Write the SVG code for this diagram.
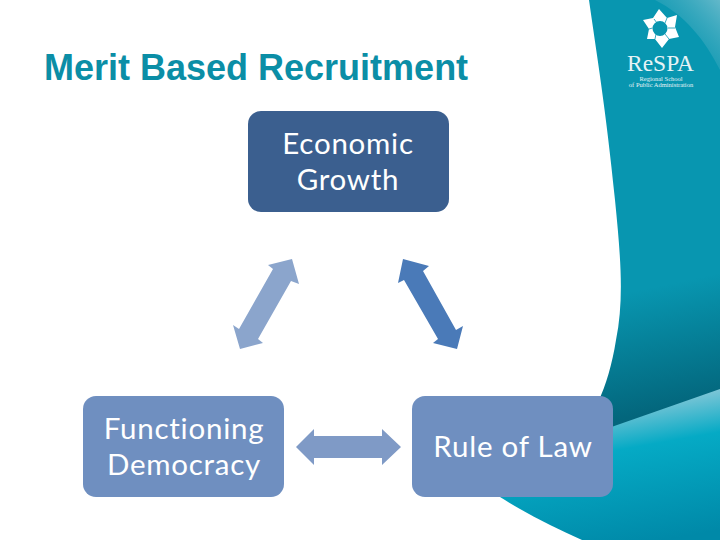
<svg xmlns="http://www.w3.org/2000/svg" width="720" height="540" viewBox="0 0 720 540">
<defs>
<linearGradient id="top" gradientUnits="userSpaceOnUse" x1="640" y1="290" x2="665" y2="410"><stop offset="0" stop-color="#0896b0"/><stop offset="1" stop-color="#03667c"/></linearGradient>
<linearGradient id="corner" x1="0" y1="1" x2="1" y2="0"><stop offset="0" stop-color="#0896b0" stop-opacity="0"/><stop offset="1" stop-color="#63b8ca"/></linearGradient>
<linearGradient id="low" gradientUnits="userSpaceOnUse" x1="640" y1="400" x2="665" y2="540"><stop offset="0" stop-color="#86c8d8"/><stop offset="0.32" stop-color="#05aac5"/><stop offset="1" stop-color="#0089a8"/></linearGradient>
</defs>
<style>
.t{font-family:"Lato","Open Sans",sans-serif;font-size:29.5px;letter-spacing:0.75px;fill:#fff;text-anchor:middle}
.s{font-family:"Liberation Serif",serif;fill:#e6f3f6;text-anchor:middle}
</style>
<rect width="720" height="540" fill="#fff"/>
<g id="background">
<path d="M589 0C596 50 606 110 615 200C621 260 624 300 616 340C612 365 606 385 598 402L560 460H720V0Z" fill="url(#top)"/>
<path d="M655 0H720V70C705 40 685 15 655 0Z" fill="url(#corner)"/>
<path d="M500 497C525 513 555 528 582 540H720V389L560 445Z" fill="url(#low)"/>
<g id="logo">
<path fill-rule="evenodd" fill="#fff" d="M659 9L667 18L677 15L675 27L679 37L669 39L662 48L655 39L647 39L649 29L643 20L653 18ZM660 21A7.5 7.5 0 1 0 660.01 36A7.5 7.5 0 1 0 660 21Z"/>
<path d="M654 19L657 23M667 18L665 23M675 28L668 28M669 39L665 34M655 39L656 34M649 29L652.500 28" stroke="#0896b0" stroke-width="0.800" fill="none"/>
</g>
<text class="s" x="660.500" y="70.500" font-size="23.500">ReSPA</text>
<text class="s" x="661" y="80.500" font-size="6.500">Regional School</text>
<text class="s" x="661" y="86.500" font-size="6.500">of Public Administration</text>
</g>
<text id="title" x="44" y="79.500" font-family="Liberation Sans, Arial, sans-serif" font-weight="700" font-size="36" fill="#0b8ea6">Merit Based Recruitment</text>
<g id="connectors">
<path id="c1" fill="#8ba5cc" d="M292 259L299 284L291 281L258 339L263 343L240 349L233 325L239 329L273 269L268 265Z"/>
<path id="c2" fill="#4a7ab8" d="M403 259L429 266L423 271L456 330L463 326L457 349L433 343L438 339L404 280L398 283Z"/>
<path id="c3" fill="#7f9ac6" d="M296 447L314 429V436H382V429L401 447L382 465V458H314V465Z"/>
</g>
<g id="economic-growth"><rect x="248" y="111" width="201" height="101" rx="13" fill="#3b5f8f"/><text class="t" x="348" y="154">Economic</text><text class="t" x="348" y="190">Growth</text></g>
<g id="functioning-democracy"><rect x="83" y="396" width="201" height="101" rx="13" fill="#6f8fc0"/><text class="t" x="184" y="439">Functioning</text><text class="t" x="184" y="475">Democracy</text></g>
<g id="rule-of-law"><rect x="412" y="396" width="201" height="101" rx="13" fill="#6f8fc0"/><text class="t" x="513" y="457">Rule of Law</text></g>
</svg>
